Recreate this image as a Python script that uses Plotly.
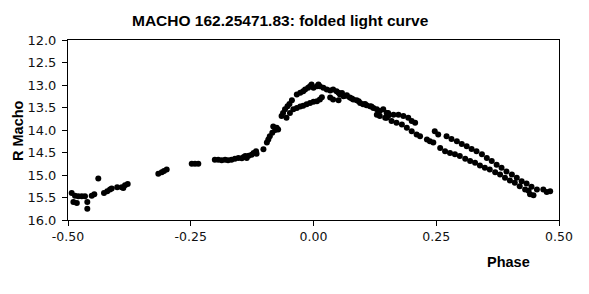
import plotly.graph_objects as go

# Phase / R magnitude values
phase = [
    -0.4925, -0.4857, -0.479, -0.472, -0.4654, -0.489, -0.482, -0.4607, -0.4607,
    -0.4517, -0.4464, -0.4383, -0.4267, -0.42, -0.4145, -0.411, -0.3998, -0.3906,
    -0.3874, -0.3839, -0.3784, -0.316, -0.309, -0.3045, -0.299, -0.248, -0.2413,
    -0.2346, -0.201, -0.194, -0.187, -0.180, -0.174, -0.167, -0.160, -0.153,
    -0.146, -0.142, -0.139, -0.136, -0.132, -0.126, -0.122, -0.117, -0.116,
    -0.102, -0.095, -0.092, -0.089, -0.084, -0.078, -0.082, -0.075, -0.072,
    -0.065, -0.062, -0.058, -0.053, -0.049, -0.044,
    -0.055, -0.048, -0.041, -0.034, -0.027, -0.021, -0.014, -0.007, 0.000, 0.007,
    0.013, 0.017,
    -0.034, -0.027, -0.021, -0.017, -0.011, -0.007, -0.004, 0.000, 0.007, 0.010,
    0.013, 0.020,
    0.027, 0.034, 0.040, 0.047, 0.051, 0.034, 0.040, 0.051, 0.054, 0.061, 0.068,
    0.074, 0.081, 0.088, 0.095, 0.101, 0.108, 0.115, 0.122, 0.129, 0.135, 0.142,
    0.149, 0.152, 0.146, 0.135, 0.129, 0.058, 0.066, 0.078, 0.092, 0.105, 0.118,
    0.152, 0.163, 0.173, 0.183, 0.193, 0.200, 0.207,
    0.149, 0.159, 0.169, 0.180, 0.190, 0.200, 0.210, 0.217, 0.231, 0.237, 0.244,
    0.247, 0.254,
    0.271, 0.281, 0.292, 0.302, 0.312, 0.322, 0.332, 0.343, 0.353, 0.363, 0.373,
    0.383, 0.393, 0.404, 0.414, 0.424, 0.434, 0.444, 0.455, 0.468, 0.482,
    0.258, 0.268, 0.278, 0.288, 0.298, 0.309, 0.319, 0.329, 0.339, 0.349, 0.359,
    0.370, 0.380, 0.390, 0.400, 0.410, 0.420, 0.431, 0.441,
    0.475, 0.448, 0.438,
]
mag = [
    15.40, 15.46, 15.47, 15.47, 15.47, 15.60, 15.62, 15.60, 15.75,
    15.46, 15.43, 15.08, 15.40, 15.36, 15.32, 15.30, 15.27, 15.27,
    15.29, 15.23, 15.20, 14.97, 14.94, 14.91, 14.88, 14.75, 14.75,
    14.75, 14.66, 14.66, 14.67, 14.66, 14.67, 14.66, 14.64, 14.62,
    14.63, 14.60, 14.58, 14.62, 14.57, 14.55, 14.51, 14.47, 14.53,
    14.43, 14.28, 14.21, 14.14, 14.06, 14.00, 13.92, 13.95, 13.99,
    13.69, 13.62, 13.54, 13.47, 13.42, 13.34,
    13.73, 13.62, 13.54, 13.51, 13.48, 13.46, 13.43, 13.40, 13.37, 13.36,
    13.32, 13.27,
    13.21, 13.17, 13.14, 13.10, 13.06, 13.03, 12.99, 13.06, 13.03, 12.99,
    13.03, 13.06,
    13.10, 13.12, 13.10, 13.14, 13.17, 13.28, 13.32, 13.34, 13.21, 13.25, 13.23,
    13.28, 13.32, 13.34, 13.40, 13.43, 13.45, 13.47, 13.51, 13.54, 13.58, 13.54,
    13.62, 13.69, 13.73, 13.69, 13.66, 13.18, 13.24, 13.30, 13.36, 13.42, 13.48,
    13.62, 13.66, 13.66, 13.69, 13.73, 13.80, 13.84,
    13.73, 13.80, 13.84, 13.88, 13.95, 14.03, 14.10, 14.14, 14.21, 14.25, 14.28,
    14.03, 14.10,
    14.14, 14.20, 14.25, 14.31, 14.36, 14.42, 14.47, 14.54, 14.62, 14.69, 14.77,
    14.84, 14.92, 14.99, 15.06, 15.14, 15.19, 15.26, 15.32, 15.32, 15.36,
    14.40, 14.47, 14.51, 14.54, 14.58, 14.64, 14.69, 14.73, 14.79, 14.84, 14.88,
    14.94, 14.99, 15.06, 15.12, 15.17, 15.25, 15.32, 15.43,
    15.38, 15.45, 15.35,
]

title_text = "MACHO 162.25471.83: folded light curve"
x_tick_vals = [-0.5, -0.25, 0.0, 0.25, 0.5]
x_tick_text = ["-0.50", "-0.25", "0.00", "0.25", "0.50"]
y_tick_vals = [12.0, 12.5, 13.0, 13.5, 14.0, 14.5, 15.0, 15.5, 16.0]
y_tick_text = ["12.0", "12.5", "13.0", "13.5", "14.0", "14.5", "15.0", "15.5", "16.0"]

BOLD = "Arial, Liberation Sans, sans-serif"
TICK = "DejaVu Sans, Verdana, sans-serif"

fig = go.Figure(
    go.Scatter(
        x=phase, y=mag, mode="markers",
        marker=dict(color="black", size=6, line=dict(width=0)),
    )
)

fig.update_layout(
    width=589, height=294,
    margin=dict(l=68, r=30, t=40, b=74),
    paper_bgcolor="white", plot_bgcolor="white",
    showlegend=False,
    font=dict(family=BOLD, size=12, color="black"),
    annotations=[
        dict(text="<b>" + title_text + "</b>", xref="paper", yref="paper",
             x=(280.5 - 68) / 491, y=1 + 19 / 180, xanchor="center", yanchor="middle",
             showarrow=False, font=dict(family=BOLD, size=15.5, color="black")),
        dict(text="<b>R Macho</b>", xref="paper", yref="paper",
             x=-(68 - 18) / 491, y=(220 - 131) / 180, xanchor="center", yanchor="middle",
             textangle=-90, showarrow=False,
             font=dict(family=BOLD, size=14.5, color="black")),
        dict(text="<b>Phase</b>", xref="paper", yref="paper",
             x=(508 - 68) / 491, y=-(262 - 220) / 180, xanchor="center",
             yanchor="middle", showarrow=False,
             font=dict(family=BOLD, size=14.5, color="black")),
    ],
)

fig.update_xaxes(
    range=[-0.5, 0.5], tickvals=x_tick_vals, ticktext=x_tick_text,
    showgrid=False, zeroline=False, showline=True, linecolor="black",
    linewidth=1, mirror=True, ticks="outside", ticklen=5, tickcolor="black",
    tickfont=dict(family=TICK, size=12.5, color="#111111"),
)
fig.update_yaxes(
    range=[16.0, 12.0], tickvals=y_tick_vals, ticktext=y_tick_text,
    showgrid=False, zeroline=False, showline=True, linecolor="black",
    linewidth=1, mirror=True, ticks="outside", ticklen=5, tickcolor="black",
    ticklabelstandoff=3,
    tickfont=dict(family=TICK, size=13, color="#111111"),
)

fig.write_html("out.html")
